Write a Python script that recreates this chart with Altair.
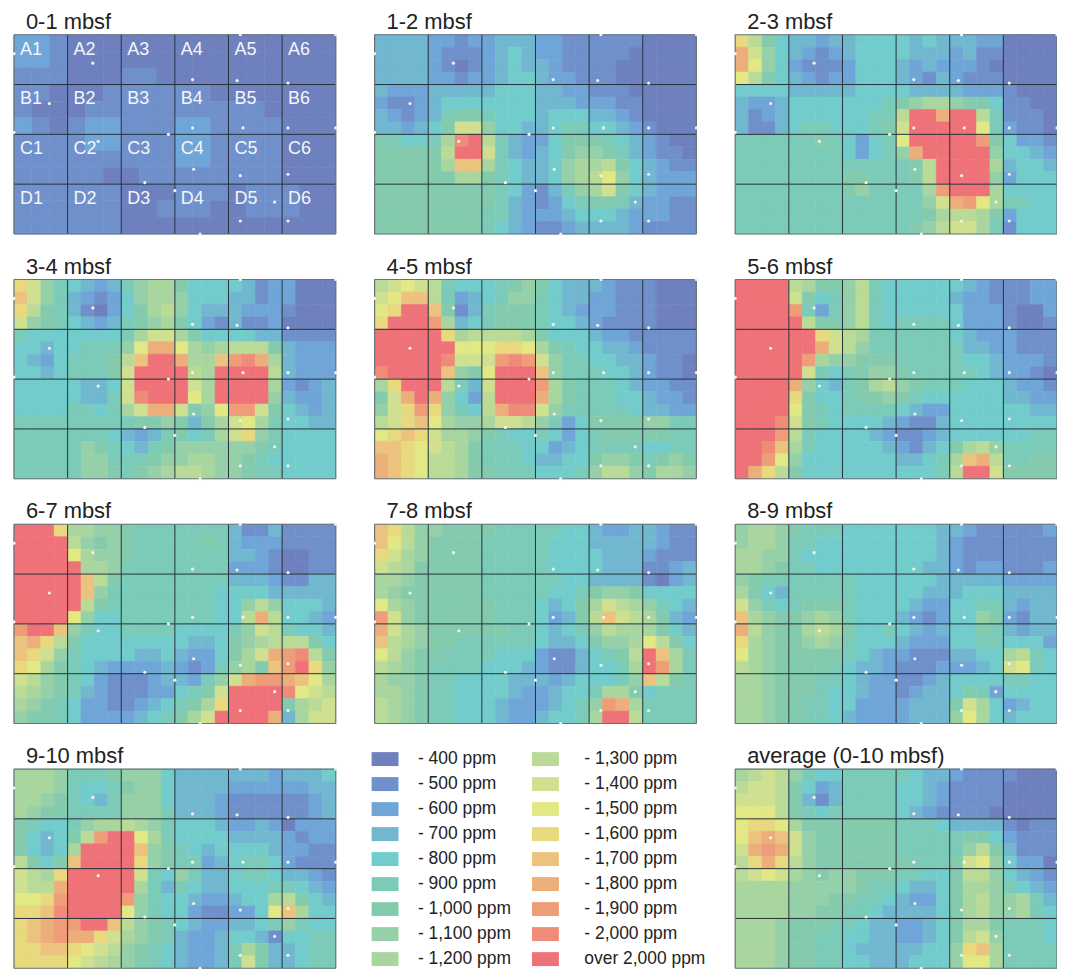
import altair as alt
import pandas as pd

FONT = "Liberation Sans"
PANEL_W, PANEL_H = 323, 200

LEVELS = list(range(4, 22))
LEVEL_LABELS = ["- 400 ppm", "- 500 ppm", "- 600 ppm", "- 700 ppm", "- 800 ppm", "- 900 ppm",
                "- 1,000 ppm", "- 1,100 ppm", "- 1,200 ppm", "- 1,300 ppm", "- 1,400 ppm", "- 1,500 ppm",
                "- 1,600 ppm", "- 1,700 ppm", "- 1,800 ppm", "- 1,900 ppm", "- 2,000 ppm", "over 2,000 ppm"]
LEVEL_COLORS = ["#6E80BE", "#6F90CB", "#70A5D8", "#71B7D0", "#72CCCC", "#7BCBB8",
                "#84CBAE", "#96D0A8", "#A8D69E", "#BADB98", "#CFE190", "#E2E884",
                "#E8D87E", "#ECC37E", "#EDAF7A", "#EF9D78", "#EF8B78", "#EE7277"]

# concentration class (hundreds of ppm; 21 = over 2,000 ppm)
D0_1 = [
[6,6,5,4,4,4,4,4,4,4,4,4,4,4,4,4,4,4],
[6,6,5,4,4,4,4,4,4,4,4,4,4,4,4,4,4,4],
[5,5,5,4,4,4,5,5,4,4,4,4,4,4,4,4,4,4],
[5,5,4,4,4,5,5,5,5,5,5,4,4,4,4,4,4,4],
[5,4,4,4,5,5,5,5,5,5,5,5,5,5,4,4,4,4],
[6,5,4,5,6,6,5,5,5,6,6,5,5,5,5,4,4,4],
[5,5,5,5,6,6,5,5,5,6,6,5,5,5,5,4,4,4],
[5,5,5,5,5,5,5,5,5,6,6,5,5,5,5,4,4,4],
[5,5,5,5,5,4,4,5,5,5,5,5,5,5,5,4,4,4],
[5,5,5,5,5,5,4,4,4,5,5,5,4,5,5,5,4,4],
[5,5,5,5,5,5,4,4,5,5,5,4,4,5,5,5,4,4],
[5,5,5,5,5,5,4,4,4,4,4,4,4,4,4,4,4,4]]
D1_2 = [
[7,7,7,7,6,6,5,6,6,7,7,7,6,6,5,5,5,5,5,5,4,4,4,4],
[7,7,7,7,6,5,5,5,6,7,8,7,6,6,5,5,5,5,5,4,4,4,4,4],
[7,7,7,7,6,5,4,5,6,7,8,7,7,6,5,5,5,5,4,4,4,4,4,4],
[7,7,7,7,6,6,5,6,6,7,8,8,7,6,6,5,5,5,4,4,4,4,4,4],
[7,6,6,6,7,7,7,7,7,8,8,8,7,7,6,6,5,5,5,4,4,4,4,4],
[6,5,5,6,7,8,8,8,8,8,8,8,7,7,7,6,6,6,5,5,4,4,4,4],
[7,6,5,6,7,9,10,10,9,8,8,8,7,8,8,8,7,7,6,5,4,4,4,4],
[7,7,6,7,8,10,14,14,11,8,8,7,7,8,9,9,8,8,7,6,5,4,4,4],
[10,9,8,8,9,12,20,21,13,9,7,6,6,8,10,10,10,9,8,7,6,5,4,4],
[10,10,10,10,10,13,21,21,14,9,7,6,7,8,10,11,11,10,9,7,6,5,5,4],
[10,10,10,10,10,12,17,17,12,9,8,7,7,8,11,12,12,13,10,8,7,6,5,5],
[10,10,10,10,10,10,12,12,10,9,8,7,7,8,11,12,13,15,11,8,7,6,6,6],
[10,10,10,10,10,10,10,10,10,9,8,6,5,7,9,11,12,14,10,8,7,6,6,6],
[10,10,10,10,10,10,10,10,10,9,7,6,5,6,8,9,10,10,9,7,6,6,5,5],
[10,10,10,10,10,10,10,10,9,9,7,6,6,6,7,8,8,8,7,6,6,6,5,5],
[10,10,10,10,10,10,10,10,9,8,7,6,5,5,6,7,7,7,7,6,5,5,5,5]]
D2_3 = [
[16,13,10,8,7,7,6,7,7,8,8,8,8,7,8,7,7,7,6,6,4,4,4,4],
[18,14,11,8,7,6,5,6,7,8,8,8,8,7,7,7,6,7,5,5,4,4,4,4],
[18,15,11,8,6,5,5,5,6,8,8,8,7,6,7,6,6,6,5,4,4,4,4,4],
[15,13,10,8,7,6,5,6,6,8,8,8,7,6,5,7,6,5,5,5,4,4,4,4],
[8,8,8,8,7,7,7,7,7,8,8,8,8,7,7,7,7,6,6,6,5,4,4,4],
[7,6,6,7,8,8,8,8,8,8,8,9,10,11,12,12,11,10,10,8,5,5,4,4],
[7,5,6,7,8,8,8,8,8,8,9,9,13,21,21,18,21,21,13,9,5,5,5,4],
[7,5,5,7,8,9,9,8,8,8,9,10,14,21,21,21,21,21,15,9,6,5,5,4],
[9,9,9,9,9,9,10,9,8,6,8,9,15,21,21,21,21,21,19,10,8,6,6,5],
[9,9,9,9,9,9,9,9,8,6,8,9,11,18,21,21,21,21,21,11,8,8,7,6],
[9,9,9,9,9,9,9,9,9,9,9,9,9,10,13,21,21,21,21,12,7,8,8,7],
[9,9,9,9,9,9,9,9,10,10,9,9,9,10,13,21,21,21,21,11,6,8,8,8],
[9,9,9,9,9,9,9,9,10,11,9,9,9,9,12,19,21,21,21,12,8,8,8,8],
[9,9,9,9,9,9,9,9,9,9,9,9,9,9,11,14,18,19,15,12,9,9,8,8],
[9,9,9,9,9,9,9,9,9,9,9,9,9,9,10,12,13,13,12,10,6,8,8,8],
[9,9,9,9,9,9,9,9,9,9,9,9,9,10,11,13,14,14,12,9,5,8,8,8]]
D3_4 = [
[16,14,11,9,8,7,6,7,9,11,12,12,10,8,8,8,8,7,5,6,6,4,4,4],
[17,14,11,9,7,6,5,6,8,11,12,12,11,8,8,8,7,7,5,6,6,4,4,4],
[16,13,10,9,7,5,4,6,8,10,12,13,11,8,7,7,7,6,6,6,5,4,4,4],
[14,11,10,9,8,7,6,7,9,10,11,12,10,8,6,5,7,5,5,6,4,4,4,4],
[9,8,8,8,8,8,8,8,9,12,14,14,12,10,8,8,8,8,7,7,5,5,5,5],
[8,8,7,8,8,9,9,9,11,15,18,18,15,12,11,12,13,13,13,10,7,6,6,6],
[8,7,6,8,9,9,9,10,13,17,21,21,18,12,12,17,19,20,18,12,7,6,6,6],
[8,8,7,8,9,9,9,10,14,21,21,21,21,13,12,21,21,21,21,13,7,6,6,6],
[8,8,8,8,8,7,7,8,14,21,21,21,21,14,12,21,21,21,21,12,6,5,6,7],
[8,8,8,8,8,7,7,9,14,20,21,21,21,15,12,21,21,21,21,11,7,6,6,7],
[8,8,8,8,9,9,8,9,12,14,18,18,14,10,11,15,19,19,14,10,8,7,6,7],
[9,9,9,9,9,9,9,9,9,10,10,11,10,7,10,12,14,15,12,9,8,8,7,7],
[9,9,9,9,9,9,9,8,7,6,7,9,10,8,9,12,14,16,11,9,8,8,8,8],
[9,9,9,9,9,11,10,9,8,7,9,10,11,11,11,11,11,11,10,9,8,8,8,8],
[9,9,9,9,9,11,11,9,9,9,10,11,11,12,12,11,11,10,9,8,8,8,8,8],
[9,9,9,9,9,11,11,10,9,10,11,12,13,13,12,11,11,10,9,9,8,8,8,8]]
D4_5 = [
[13,14,15,14,13,9,8,8,8,9,10,11,10,8,7,7,7,6,5,5,5,4,4,4],
[14,15,17,17,13,9,6,7,8,9,11,11,9,8,7,7,6,6,5,5,5,4,4,4],
[15,16,21,21,17,10,5,7,9,10,10,10,9,8,7,6,6,6,5,5,5,4,4,4],
[16,21,21,21,19,12,7,8,9,10,10,10,9,8,8,7,6,5,5,5,5,4,4,4],
[21,21,21,21,21,16,12,13,13,13,13,12,10,8,8,8,7,6,6,5,5,5,5,5],
[21,21,21,21,21,21,15,15,15,16,16,15,12,10,9,8,8,7,7,6,5,5,5,5],
[21,21,21,21,21,20,14,14,14,19,20,19,14,11,9,9,8,8,7,7,6,5,5,4],
[20,21,21,21,21,17,11,10,15,21,21,21,17,11,9,9,9,8,8,7,6,5,5,4],
[12,16,21,21,21,13,9,7,14,21,21,21,19,12,10,9,9,9,8,7,6,6,5,5],
[10,14,18,21,18,11,8,6,13,21,21,21,18,12,10,9,9,9,8,8,7,6,6,5],
[11,14,16,19,16,11,9,8,13,18,20,20,14,11,9,9,9,9,9,8,7,7,6,6],
[13,14,16,17,15,12,11,11,12,14,14,13,11,9,6,8,10,10,10,10,11,11,9,9],
[15,16,17,16,14,12,12,11,10,9,8,8,9,8,6,8,9,10,10,10,10,10,9,9],
[17,17,16,15,14,13,12,10,9,9,9,8,8,6,7,8,9,9,9,9,8,8,9,9],
[18,17,16,15,13,13,12,10,9,9,9,8,7,7,8,8,10,11,11,10,9,10,11,10],
[18,17,16,15,13,13,12,10,10,9,9,9,8,8,8,9,11,13,13,11,10,12,12,11]]
D5_6 = [
[21,21,21,21,13,12,10,10,11,13,9,8,8,8,8,8,8,7,6,5,5,5,6,6],
[21,21,21,21,14,10,8,9,11,13,9,8,8,8,8,8,7,6,6,5,5,5,6,6],
[21,21,21,21,19,9,6,9,11,13,9,8,8,8,8,8,8,6,6,6,5,4,4,6],
[21,21,21,21,21,13,10,10,11,13,9,8,9,9,9,9,8,6,6,6,5,4,4,5],
[21,21,21,21,21,21,16,14,13,12,9,9,9,9,9,9,8,7,6,6,6,5,5,5],
[21,21,21,21,21,21,18,14,13,11,9,9,9,9,9,9,9,7,7,6,6,5,5,5],
[21,21,21,21,21,19,12,11,11,10,10,10,9,9,9,9,9,8,8,7,6,6,6,5],
[21,21,21,21,21,14,9,8,9,10,11,11,10,9,9,9,9,9,8,7,6,6,5,4],
[21,21,21,21,18,11,8,7,9,10,12,13,11,10,9,9,9,8,8,8,7,6,6,5],
[21,21,21,21,16,10,8,8,9,10,10,11,10,9,8,8,8,8,8,8,7,7,6,6],
[21,21,21,21,15,10,9,8,9,9,9,9,8,7,6,6,8,8,8,8,8,8,7,7],
[21,21,21,20,14,10,9,8,8,8,8,7,6,5,5,7,8,8,8,8,8,8,8,8],
[21,21,21,19,13,9,8,8,8,8,7,6,5,5,6,7,8,8,8,8,8,8,9,9],
[21,21,20,17,12,9,8,8,8,8,8,7,6,5,7,8,10,12,13,11,9,9,9,9],
[21,21,19,15,11,8,8,8,8,8,8,8,7,7,8,9,12,17,18,13,9,9,10,10],
[21,18,16,13,10,8,8,8,8,8,8,8,8,8,8,9,13,21,21,14,10,10,10,10]]
D6_7 = [
[21,21,21,16,12,12,11,11,10,9,9,9,9,9,9,9,7,5,5,7,5,5,5,5],
[21,21,21,21,13,11,10,11,10,9,9,9,9,9,10,9,7,6,6,6,5,5,5,5],
[21,21,21,21,15,12,11,11,10,9,9,9,9,9,9,9,7,7,6,5,4,4,5,5],
[21,21,21,21,21,12,12,11,9,9,9,9,9,9,9,9,6,6,6,5,4,4,5,5],
[21,21,21,21,21,17,13,10,9,9,9,9,9,9,9,9,7,7,7,6,5,5,7,7],
[21,21,21,21,21,17,11,9,9,9,9,9,9,9,9,8,8,8,8,7,7,7,7,7],
[21,21,21,21,21,13,10,9,9,9,9,9,9,9,9,8,8,11,13,11,8,8,8,7],
[21,21,21,21,15,11,8,8,9,9,9,9,9,9,9,8,8,13,18,13,8,8,7,6],
[19,21,21,17,11,9,8,8,9,9,9,9,8,8,8,8,9,11,14,13,9,8,8,7],
[17,18,16,13,10,8,8,8,8,8,8,8,8,7,7,8,10,11,12,13,13,13,10,8],
[17,16,14,11,9,8,8,8,8,7,7,8,7,6,6,8,10,12,14,18,19,20,13,10],
[16,15,12,10,9,8,7,6,6,6,6,7,6,5,6,9,11,12,10,17,19,21,16,11],
[14,13,11,10,9,8,6,5,5,5,6,7,7,6,9,11,14,18,19,19,18,17,15,12],
[13,12,11,10,9,7,6,5,5,5,6,6,8,9,10,14,21,21,21,21,20,15,14,13],
[12,11,10,9,8,6,6,5,5,6,7,8,9,10,12,16,21,21,21,21,10,12,13,14],
[11,10,10,9,8,6,6,6,6,7,8,9,10,12,14,21,21,21,21,18,7,12,14,14]]
D7_8 = [
[17,16,13,11,11,10,10,10,10,9,9,9,9,9,8,8,7,6,6,7,7,6,5,5],
[17,15,13,11,10,10,10,10,9,9,9,9,9,8,8,8,7,7,7,7,7,6,5,5],
[16,14,12,11,10,10,10,10,9,9,9,9,9,8,8,8,8,7,7,7,6,5,5,5],
[14,13,12,10,10,10,10,10,9,9,9,9,9,8,8,8,8,7,7,7,5,5,6,7],
[12,12,11,10,10,10,10,10,9,9,9,9,9,9,8,8,7,7,7,7,5,4,6,7],
[12,11,10,10,10,10,10,10,9,9,9,9,9,8,8,9,10,11,11,10,8,8,8,8],
[15,12,11,10,10,10,10,10,10,9,9,9,8,7,8,10,12,14,13,12,11,9,8,7],
[19,14,11,10,10,10,10,10,10,9,9,9,8,6,7,10,13,17,14,13,12,10,7,6],
[18,14,12,11,10,10,10,10,10,10,9,9,8,7,8,9,11,13,12,12,12,10,8,7],
[17,13,12,11,10,10,9,9,9,9,9,9,8,7,7,8,10,11,11,12,15,13,10,8],
[15,13,11,10,10,9,9,9,9,8,8,8,6,5,5,7,8,9,10,13,21,17,12,9],
[13,12,11,10,9,9,9,9,8,8,8,7,6,5,5,7,8,8,9,12,21,19,12,9],
[12,11,11,10,9,9,8,8,8,8,7,7,7,6,7,8,8,8,9,11,17,13,10,9],
[12,12,11,10,9,9,8,8,8,8,7,6,6,7,8,8,9,12,12,10,8,9,9,9],
[13,12,11,10,9,9,8,8,8,7,6,6,6,7,8,9,11,19,18,12,9,9,9,9],
[13,12,11,10,9,9,8,8,8,7,6,6,7,8,8,9,12,21,21,13,9,9,9,9]]
D8_9 = [
[11,12,12,11,10,9,9,9,8,8,8,8,8,8,8,7,7,6,5,5,5,5,5,6],
[11,12,12,11,9,9,8,8,8,8,8,8,8,8,8,7,6,5,5,5,5,5,5,5],
[12,12,11,11,9,8,8,8,8,8,8,8,8,8,8,7,6,5,5,5,5,5,5,5],
[12,12,11,10,9,9,8,8,8,8,8,8,8,8,7,7,6,5,6,6,5,5,5,6],
[11,10,9,9,9,9,9,9,9,8,8,8,8,8,8,7,7,7,7,7,6,6,6,6],
[12,10,8,7,9,9,9,9,9,8,8,8,8,8,7,7,7,8,8,8,7,7,7,7],
[14,11,9,8,9,10,10,10,9,8,8,8,8,7,6,6,8,8,9,9,7,6,7,7],
[17,12,11,10,10,11,12,11,9,8,8,8,7,6,5,6,8,8,11,10,6,5,7,7],
[18,13,11,10,10,12,13,12,10,8,8,9,8,7,6,7,8,8,10,9,7,6,7,7],
[16,12,11,10,10,11,12,11,9,8,8,8,7,6,6,6,8,8,9,9,8,8,8,6],
[15,12,11,10,10,10,10,10,9,8,7,6,6,5,5,5,7,7,8,8,12,13,9,8],
[13,12,11,10,10,10,10,9,8,7,7,6,5,5,5,6,6,6,7,8,14,15,9,8],
[12,12,11,10,10,10,9,9,8,7,6,6,5,5,6,7,8,8,8,8,9,9,8,8],
[12,12,11,10,10,10,9,8,8,7,6,6,5,6,7,7,8,10,9,6,8,8,8,8],
[12,12,11,10,10,9,9,8,8,6,6,6,6,7,7,7,10,14,12,8,6,7,8,8],
[12,12,11,10,10,9,9,8,7,6,6,6,6,7,7,7,11,15,12,8,7,8,8,8]]
D9_10 = [
[12,12,12,11,9,9,9,10,11,11,11,8,7,7,7,7,7,7,7,6,7,7,7,8],
[12,12,12,11,9,8,8,9,10,11,11,8,7,7,7,7,6,6,6,6,6,6,7,7],
[12,12,11,10,9,8,7,9,11,11,11,8,7,7,7,6,5,5,5,5,5,5,6,7],
[12,11,10,10,9,9,9,9,11,11,11,9,7,7,7,6,5,5,5,5,5,5,6,7],
[10,9,8,8,9,11,12,12,13,12,11,9,8,8,8,7,6,6,7,6,4,6,6,6],
[10,8,7,8,10,13,19,21,21,15,12,9,8,8,8,8,7,7,7,7,6,5,6,6],
[10,8,7,8,12,21,21,21,21,17,11,10,9,8,7,8,8,8,8,7,6,6,5,5],
[13,10,8,10,17,21,21,21,21,16,11,10,9,9,6,7,8,9,9,8,6,5,5,5],
[14,13,12,16,21,21,21,21,21,14,9,8,11,9,7,7,8,9,9,8,7,7,6,5],
[14,13,13,18,21,21,21,21,21,12,9,7,9,8,7,7,8,8,8,9,9,8,7,6],
[15,15,16,19,21,21,21,21,19,11,9,8,8,7,6,6,7,8,8,12,13,10,8,7],
[16,16,17,20,21,21,21,21,15,11,9,8,8,6,5,5,6,6,8,15,17,12,8,8],
[16,17,18,19,19,21,21,17,13,11,10,9,8,7,6,6,7,7,8,9,11,9,8,8],
[16,17,18,19,18,18,16,14,12,11,10,9,7,6,6,7,8,8,7,5,8,8,9,9],
[16,16,17,17,16,15,14,13,11,10,9,8,7,6,6,7,9,12,10,7,7,8,9,9],
[16,16,16,16,15,14,13,12,11,10,9,8,7,6,6,7,9,14,10,7,7,8,9,9]]
DAVG = [
[12,13,14,13,11,9,8,8,9,9,9,9,9,8,7,7,6,5,5,5,5,4,4,4],
[13,14,14,13,10,8,6,7,9,9,9,9,8,8,7,6,5,5,5,5,4,4,4,4],
[14,14,14,13,10,7,5,7,9,9,9,9,8,8,7,6,5,5,5,5,4,4,4,4],
[15,15,15,13,10,9,8,9,9,9,9,9,8,7,6,5,5,5,5,4,4,4,4,4],
[15,16,16,15,12,10,10,10,10,10,10,10,9,9,9,8,7,7,7,7,5,4,5,5],
[15,17,18,17,14,11,10,10,10,10,10,10,9,9,9,9,9,10,10,8,6,5,5,5],
[14,18,19,18,14,11,10,10,10,10,10,10,9,9,9,9,9,11,13,10,7,5,5,5],
[13,16,18,16,13,11,10,10,10,10,10,10,10,9,9,9,10,14,15,11,8,6,6,4],
[13,14,15,14,12,11,10,11,11,10,10,10,9,9,8,8,10,13,13,11,8,7,6,5],
[12,12,12,12,11,11,11,11,11,10,9,9,8,7,7,8,10,12,12,11,9,8,7,6],
[12,12,12,12,11,11,11,10,10,9,9,8,7,6,6,8,10,12,13,11,11,12,9,7],
[12,12,12,12,11,11,10,10,9,9,8,7,7,7,7,8,10,12,13,11,11,12,9,8],
[12,12,12,11,10,10,10,9,9,8,7,7,6,6,7,8,10,12,12,10,9,9,9,8],
[12,12,12,11,10,10,9,9,8,8,7,7,6,6,7,8,10,13,14,11,9,9,9,8],
[12,12,12,11,10,10,9,9,8,7,7,7,7,7,8,8,11,16,17,12,9,9,9,9],
[12,12,12,11,10,10,9,9,8,8,7,7,7,8,8,8,11,15,15,12,9,9,9,9]]

# sampling stations, in grid-square units
STATION_X = [0,1.47,4.22,6,3.33,4.16,5.11,0.66,0,3.33,4.27,5.11,6,2.88,1.57,3.35,4.22,5.11,2.44,3,4.86,4.22,5.11,3.47]
STATION_Y = [0.38,0.57,0,0,0.9,0.92,0.97,1.38,1.96,1.87,1.87,1.87,1.87,2,2.14,2.7,2.83,2.8,2.97,3.13,3.36,3.74,3.74,4]

GRID_ROWS = ["A", "B", "C", "D"]
INNER_X = [1, 2, 3, 4, 5]
INNER_Y = [1, 2, 3]
FRAME_X = [0, 6]
FRAME_Y = [0, 4]

xs = alt.Scale(domain=[0, 6], nice=False, zero=False)
ys = alt.Scale(domain=[0, 4], nice=False, zero=False, reverse=True)
color_scale = alt.Scale(domain=LEVELS, range=LEVEL_COLORS)


def cell_table(rows):
    nr, nc = len(rows), len(rows[0])
    out = []
    for r, row in enumerate(rows):
        for c, v in enumerate(row):
            out.append({"x": 6 * c / nc, "x2": 6 * (c + 1) / nc, "y": 4 * r / nr, "y2": 4 * (r + 1) / nr, "level": v})
    return pd.DataFrame(out)


stations = pd.DataFrame({"x": STATION_X, "y": STATION_Y})


def panel(name, rows, labels=False):
    base = alt.Chart(cell_table(rows)).mark_rect(strokeWidth=0.6).encode(
        x=alt.X("x:Q", scale=xs, axis=None),
        x2="x2:Q",
        y=alt.Y("y:Q", scale=ys, axis=None),
        y2="y2:Q",
        color=alt.Color("level:O", scale=color_scale, legend=None),
        stroke=alt.Stroke("level:O", scale=color_scale, legend=None),
    )
    layers = [base]
    layers.append(alt.Chart(pd.DataFrame({"v": INNER_X})).mark_rule(color="#26323a", strokeWidth=1).encode(
        x=alt.X("v:Q", scale=xs, axis=None)))
    layers.append(alt.Chart(pd.DataFrame({"v": INNER_Y})).mark_rule(color="#26323a", strokeWidth=1).encode(
        y=alt.Y("v:Q", scale=ys, axis=None)))
    layers.append(alt.Chart(pd.DataFrame({"v": FRAME_X})).mark_rule(color="#66757a", strokeWidth=1.2).encode(
        x=alt.X("v:Q", scale=xs, axis=None)))
    layers.append(alt.Chart(pd.DataFrame({"v": FRAME_Y})).mark_rule(color="#66757a", strokeWidth=1.2).encode(
        y=alt.Y("v:Q", scale=ys, axis=None)))
    layers.append(alt.Chart(stations).mark_circle(size=10, color="#f3f3ee", opacity=1).encode(
        x=alt.X("x:Q", scale=xs, axis=None), y=alt.Y("y:Q", scale=ys, axis=None)))
    if labels:
        lab = [{"x": c, "y": r + 0.3, "t": f"{GRID_ROWS[r]}{c + 1}"} for r in range(4) for c in range(6)]
        layers.append(alt.Chart(pd.DataFrame(lab)).mark_text(
            font=FONT, fontSize=18, color="#f4f6fa", align="left", baseline="middle", dx=6).encode(
            x=alt.X("x:Q", scale=xs, axis=None), y=alt.Y("y:Q", scale=ys, axis=None), text="t:N"))
    layers.append(alt.Chart(pd.DataFrame({"t": [name]})).mark_text(
        font=FONT, fontSize=22, color="#222222", align="left", baseline="alphabetic").encode(
        x=alt.value(12), y=alt.value(-6), text="t:N"))
    return alt.layer(*layers).properties(width=PANEL_W, height=PANEL_H)


legend_rows = pd.DataFrame({
    "col": [i // 9 for i in range(18)],
    "row": [i % 9 for i in range(18)],
    "level": LEVELS,
    "label": LEVEL_LABELS,
})
lx = alt.Scale(domain=[-0.0652, 1.9410], nice=False, zero=False)
ly = alt.Scale(domain=[0.398, 8.367], nice=False, zero=False, reverse=True)
legend_base = alt.Chart(legend_rows)
legend_panel = alt.layer(
    legend_base.mark_rect(width=27, height=14).encode(
        x=alt.X("col:Q", scale=lx, axis=None),
        y=alt.Y("row:Q", scale=ly, axis=None),
        color=alt.Color("level:O", scale=color_scale, legend=None)),
    legend_base.transform_filter("datum.col == 0").mark_text(
        font=FONT, fontSize=17.5, color="#222222", align="left", baseline="middle", dx=33).encode(
        x=alt.X("col:Q", scale=lx, axis=None), y=alt.Y("row:Q", scale=ly, axis=None), text="label:N"),
    legend_base.transform_filter("datum.col == 1").mark_text(
        font=FONT, fontSize=17.5, color="#222222", align="left", baseline="middle", dx=39).encode(
        x=alt.X("col:Q", scale=lx, axis=None), y=alt.Y("row:Q", scale=ly, axis=None), text="label:N"),
).properties(width=PANEL_W, height=PANEL_H)

chart = alt.concat(
    panel("0-1 mbsf", D0_1, True), panel("1-2 mbsf", D1_2), panel("2-3 mbsf", D2_3),
    panel("3-4 mbsf", D3_4), panel("4-5 mbsf", D4_5), panel("5-6 mbsf", D5_6),
    panel("6-7 mbsf", D6_7), panel("7-8 mbsf", D7_8), panel("8-9 mbsf", D8_9),
    panel("9-10 mbsf", D9_10), legend_panel, panel("average (0-10 mbsf)", DAVG),
    columns=3, spacing={"row": 45.7, "column": 39}, bounds="flush",
).properties(
    padding={"left": 4, "top": 1, "right": -2, "bottom": 0}
).configure_view(stroke=None)

chart.save("out.html", embed_options={"renderer": "svg", "actions": False})
